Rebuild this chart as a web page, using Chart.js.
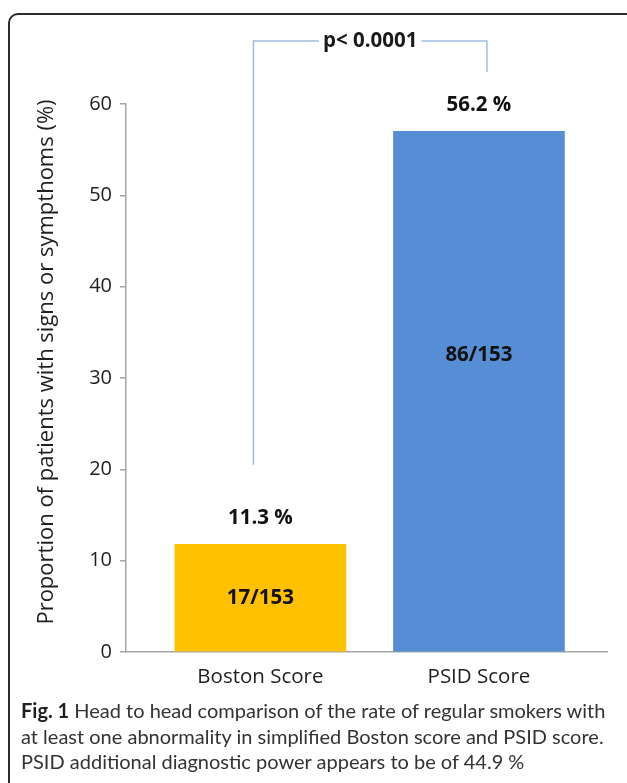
<!DOCTYPE html>
<html>
<head>
<meta charset="utf-8">
<script src="https://cdn.jsdelivr.net/npm/chart.js@4.4.1/dist/chart.umd.min.js"></script>
<style>
  html, body { margin: 0; padding: 0; background: #fff; }
  body { width: 627px; height: 783px; position: relative; overflow: hidden; }
  #frame {
    position: absolute; left: 8px; top: 13px; width: 660px; height: 820px;
    border: 2px solid #2b2b2b; border-radius: 10px; box-sizing: border-box;
  }
  #chart { position: absolute; left: 0; top: 0; }
  #caption {
    position: absolute; left: 21px; top: 698px;
    font-family: Lato, sans-serif; font-size: 20px; line-height: 25.5px;
    color: #333; white-space: nowrap;
  }
  #caption b { color: #1f1f1f; }
</style>
</head>
<body>
<div id="frame"></div>
<canvas id="chart" width="627" height="783"></canvas>
<div id="caption"><b>Fig. 1</b> Head to head comparison of the rate of regular smokers with<br>at least one abnormality in simplified Boston score and PSID score.<br>PSID additional diagnostic power appears to be of 44.9 %</div>

<script>
// ── Data ────────────────────────────────────────────────────────────────────
const categories    = ['Boston Score', 'PSID Score'];
const scores        = [11.8, 57.0];          // bar heights as drawn (%)
const percentLabels = ['11.3 %', '56.2 %'];
const countLabels   = ['17/153', '86/153'];
const yTicks        = [0, 10, 20, 30, 40, 50, 60];
const pValueLabel   = 'p< 0.0001';
const yTitle        = 'Proportion of patients with signs or sympthoms (%)';

const barColors = ['#FFC000', '#558ED5'];
const axisGray  = '#a6a6a6';
const textColor = '#1f1f1f';
const font      = '"Open Sans", sans-serif';

// ── Annotations: value labels, counts, significance bracket, y title ─────────
const annotations = {
    id: 'annotations',
    afterDatasetsDraw(chart) {
        const { ctx, scales: { x, y } } = chart;
        ctx.save();
        ctx.textAlign    = 'center';
        ctx.textBaseline = 'middle';
        ctx.fillStyle    = '#111';
        ctx.font         = 'bold 20.5px ' + font;

        // percentages above, counts inside the bars
        const countPos = [0.5, 0.57];
        scores.forEach((v, i) => {
            const px = x.getPixelForValue(i);
            ctx.fillText(percentLabels[i], px, y.getPixelForValue(v) - 26);
            ctx.fillText(countLabels[i], px, y.getPixelForValue(v * countPos[i]));
        });

        // bracket
        const xl   = x.getPixelForValue(0) - 7;
        const xr   = x.getPixelForValue(1) + 8;
        const yTop = 41;
        const xm   = (xl + xr) / 2;
        const tw   = ctx.measureText(pValueLabel).width;
        ctx.strokeStyle = '#9dbde0';
        ctx.lineWidth   = 1.5;
        ctx.beginPath();
        ctx.moveTo(xl, y.getPixelForValue(20.5));
        ctx.lineTo(xl, yTop);
        ctx.lineTo(xm - tw / 2 - 4, yTop);
        ctx.moveTo(xm + tw / 2 + 4, yTop);
        ctx.lineTo(xr, yTop);
        ctx.lineTo(xr, y.getPixelForValue(63.5));
        ctx.stroke();
        ctx.fillStyle = '#1a1a1a';
        ctx.fillText(pValueLabel, xm, yTop);

        // y axis title
        ctx.translate(47, 362);
        ctx.rotate(-Math.PI / 2);
        ctx.font      = '22px ' + font;
        ctx.fillStyle = textColor;
        ctx.fillText(yTitle, 0, 0);
        ctx.restore();
    }
};

// ── Chart ───────────────────────────────────────────────────────────────────
new Chart(document.getElementById('chart'), {
    type: 'bar',
    data: {
        datasets: [{
            data: scores.map((v, i) => ({ x: i, y: v })),
            backgroundColor: barColors,
            borderWidth: 0,
            barThickness: 171,
        }],
    },
    options: {
        responsive: false,
        animation: false,
        layout: { padding: { top: 104, left: 0, right: 20, bottom: 0 } },
        plugins: {
            legend:  { display: false },
            tooltip: { enabled: false },
        },
        scales: {
            x: {
                type: 'linear',
                offset: false,
                min: -0.615,
                max: 1.586,
                afterFit: (s) => { s.height = 131; },
                afterBuildTicks: (s) => { s.ticks = categories.map((_, i) => ({ value: i })); },
                grid:   { display: false, drawTicks: false, offset: false },
                border: { display: true, color: axisGray, width: 1.5 },
                ticks: {
                    padding: 13,
                    color: textColor,
                    font: { family: font, size: 20.5 },
                    callback: (v) => categories[v],
                },
            },
            y: {
                min: 0,
                max: 60,
                afterFit: (s) => { s.width = 126; },
                afterBuildTicks: (s) => { s.ticks = yTicks.map(v => ({ value: v })); },
                grid: {
                    drawOnChartArea: false,
                    drawTicks: true,
                    tickLength: 6,
                    color: axisGray,
                    lineWidth: 1.5,
                },
                border: { display: true, color: axisGray, width: 1.5 },
                ticks: {
                    padding: 8,
                    color: textColor,
                    font: { family: font, size: 20 },
                },
            },
        },
    },
    plugins: [annotations],
});
</script>
</body>
</html>
